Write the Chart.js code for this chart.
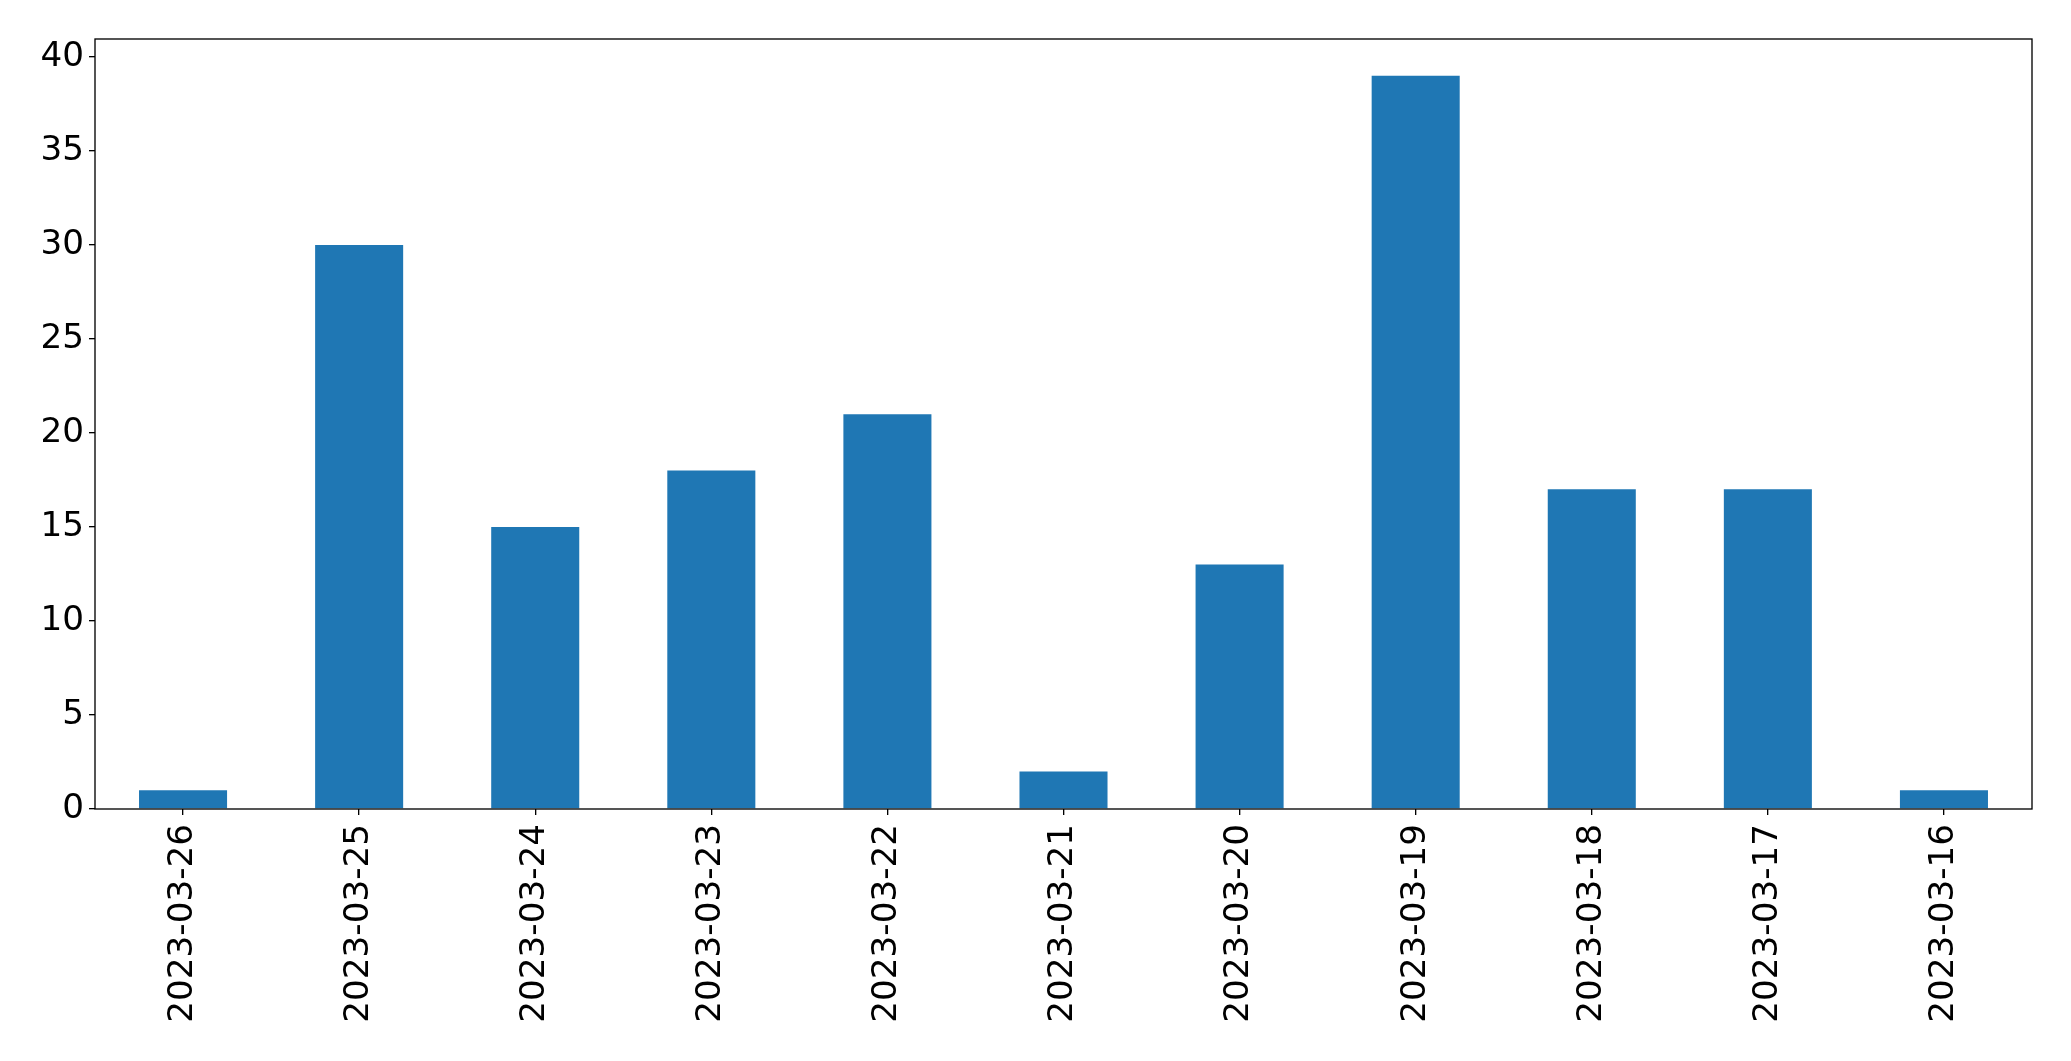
<!DOCTYPE html>
<html>
<head>
<meta charset="utf-8">
<script src="https://cdn.jsdelivr.net/npm/chart.js@4"></script>
<style>
  html, body { margin: 0; padding: 0; background: #fff; }
  #wrap { width: 2071px; height: 1061px; }
</style>
</head>
<body>
<div id="wrap"><canvas id="barChart" width="2071" height="1061"></canvas></div>
<script>
// data
const dates = ['2023-03-26', '2023-03-25', '2023-03-24', '2023-03-23', '2023-03-22', '2023-03-21',
               '2023-03-20', '2023-03-19', '2023-03-18', '2023-03-17', '2023-03-16'];
const counts = [1, 30, 15, 18, 21, 2, 13, 39, 17, 17, 1];
const yTicks = [0, 5, 10, 15, 20, 25, 30, 35, 40];

const tickFont = { family: 'DejaVu Sans', size: 34.2 };

// frame around the plot area, like matplotlib spines
const framePlugin = {
  id: 'frame',
  afterDraw(chart) {
    const { ctx, chartArea } = chart;
    ctx.save();
    ctx.strokeStyle = '#000';
    ctx.lineWidth = 1.33;
    ctx.strokeRect(chartArea.left, chartArea.top, chartArea.right - chartArea.left, chartArea.bottom - chartArea.top);
    ctx.restore();
  }
};

new Chart(document.getElementById('barChart').getContext('2d'), {
  type: 'bar',
  data: {
    labels: dates,
    datasets: [{
      data: counts,
      backgroundColor: '#1f77b4',
      borderWidth: 0,
      barPercentage: 0.5,
      categoryPercentage: 1.0,
    }],
  },
  options: {
    responsive: false,
    animation: false,
    devicePixelRatio: 1,
    layout: { padding: { top: 39, right: 39, left: 0, bottom: 0 } },
    plugins: { legend: { display: false }, tooltip: { enabled: false } },
    scales: {
      x: {
        offset: true,
        grid: { offset: false, drawOnChartArea: false, drawTicks: true, tickLength: 6, color: '#000', lineWidth: 1.33 },
        border: { display: false },
        ticks: { font: tickFont, color: '#000', minRotation: 90, maxRotation: 90, padding: 9, autoSkip: false },
        afterFit(scale) { scale.height = 1061 - 809; },
      },
      y: {
        min: 0,
        max: 40.95,
        grid: { drawOnChartArea: false, drawTicks: true, tickLength: 6, color: '#000', lineWidth: 1.33 },
        border: { display: false },
        ticks: { font: tickFont, color: '#000', padding: 5 },
        afterBuildTicks(scale) { scale.ticks = yTicks.map(v => ({ value: v })); },
        afterFit(scale) { scale.width = 95; },
      },
    },
  },
  plugins: [framePlugin],
});
</script>
</body>
</html>
